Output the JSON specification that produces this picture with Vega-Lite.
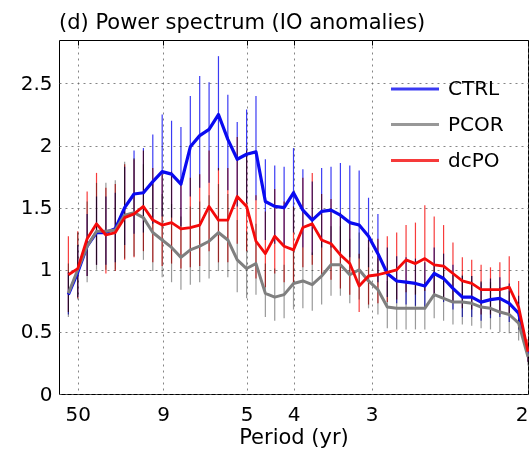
{
  "$schema": "https://vega.github.io/schema/vega-lite/v6.json",
  "width": 469,
  "height": 354,
  "autosize": {"type": "none"},
  "padding": {"left": 59, "top": 40, "right": 1, "bottom": 62},
  "background": "white",
  "title": {"text": "(d) Power spectrum (IO anomalies)", "anchor": "start", "frame": "group", "fontSize": 21, "fontWeight": "normal", "font": "DejaVu Sans", "color": "black", "offset": 7},
  "config": {
    "font": "DejaVu Sans",
    "view": {"stroke": "black", "strokeWidth": 1},
    "axis": {"labelFont": "DejaVu Sans", "labelFontSize": 20, "labelColor": "black", "titleFont": "DejaVu Sans", "titleFontSize": 21, "titleFontWeight": "normal", "titleColor": "black", "domainColor": "black", "gridColor": "#666", "gridDash": [2, 4], "gridOpacity": 0.8},
    "legend": {"orient": "none", "legendX": 330, "legendY": 23, "title": null, "symbolType": "stroke", "symbolSize": 2304, "symbolStrokeWidth": 3, "labelFontSize": 20, "labelFont": "DejaVu Sans", "labelColor": "black", "rowPadding": -10, "labelOffset": 7}
  },
  "data": {"values": [
    {"f":0.01,"s":"CTRL","v":0.80,"lo":0.64,"hi":0.98},
    {"f":0.02,"s":"CTRL","v":0.98,"lo":0.78,"hi":1.20},
    {"f":0.03,"s":"CTRL","v":1.19,"lo":0.95,"hi":1.45},
    {"f":0.04,"s":"CTRL","v":1.30,"lo":1.04,"hi":1.59},
    {"f":0.05,"s":"CTRL","v":1.30,"lo":1.04,"hi":1.59},
    {"f":0.06,"s":"CTRL","v":1.33,"lo":1.06,"hi":1.62},
    {"f":0.07,"s":"CTRL","v":1.50,"lo":1.20,"hi":1.83},
    {"f":0.08,"s":"CTRL","v":1.61,"lo":1.29,"hi":1.96},
    {"f":0.09,"s":"CTRL","v":1.62,"lo":1.30,"hi":1.98},
    {"f":0.10,"s":"CTRL","v":1.71,"lo":1.37,"hi":2.09},
    {"f":0.11,"s":"CTRL","v":1.79,"lo":1.43,"hi":2.25},
    {"f":0.12,"s":"CTRL","v":1.77,"lo":1.42,"hi":2.20},
    {"f":0.13,"s":"CTRL","v":1.69,"lo":1.35,"hi":2.15},
    {"f":0.14,"s":"CTRL","v":1.99,"lo":1.59,"hi":2.40},
    {"f":0.15,"s":"CTRL","v":2.08,"lo":1.66,"hi":2.56},
    {"f":0.16,"s":"CTRL","v":2.13,"lo":1.70,"hi":2.51},
    {"f":0.17,"s":"CTRL","v":2.25,"lo":1.80,"hi":2.72},
    {"f":0.18,"s":"CTRL","v":2.05,"lo":1.64,"hi":2.41},
    {"f":0.19,"s":"CTRL","v":1.89,"lo":1.51,"hi":2.19},
    {"f":0.20,"s":"CTRL","v":1.93,"lo":1.54,"hi":2.29},
    {"f":0.21,"s":"CTRL","v":1.95,"lo":1.56,"hi":2.40},
    {"f":0.22,"s":"CTRL","v":1.55,"lo":1.24,"hi":1.89},
    {"f":0.23,"s":"CTRL","v":1.51,"lo":1.21,"hi":1.84},
    {"f":0.24,"s":"CTRL","v":1.50,"lo":1.20,"hi":1.83},
    {"f":0.25,"s":"CTRL","v":1.62,"lo":1.30,"hi":1.98},
    {"f":0.26,"s":"CTRL","v":1.48,"lo":1.18,"hi":1.81},
    {"f":0.27,"s":"CTRL","v":1.40,"lo":1.12,"hi":1.71},
    {"f":0.28,"s":"CTRL","v":1.47,"lo":1.18,"hi":1.82},
    {"f":0.29,"s":"CTRL","v":1.48,"lo":1.18,"hi":1.83},
    {"f":0.30,"s":"CTRL","v":1.44,"lo":1.15,"hi":1.86},
    {"f":0.31,"s":"CTRL","v":1.38,"lo":1.10,"hi":1.84},
    {"f":0.32,"s":"CTRL","v":1.36,"lo":1.09,"hi":1.80},
    {"f":0.33,"s":"CTRL","v":1.27,"lo":1.02,"hi":1.58},
    {"f":0.34,"s":"CTRL","v":1.13,"lo":0.90,"hi":1.45},
    {"f":0.35,"s":"CTRL","v":0.97,"lo":0.78,"hi":1.18},
    {"f":0.36,"s":"CTRL","v":0.91,"lo":0.73,"hi":1.11},
    {"f":0.37,"s":"CTRL","v":0.90,"lo":0.72,"hi":1.10},
    {"f":0.38,"s":"CTRL","v":0.89,"lo":0.71,"hi":1.09},
    {"f":0.39,"s":"CTRL","v":0.87,"lo":0.70,"hi":1.06},
    {"f":0.40,"s":"CTRL","v":0.97,"lo":0.78,"hi":1.18},
    {"f":0.41,"s":"CTRL","v":0.93,"lo":0.74,"hi":1.13},
    {"f":0.42,"s":"CTRL","v":0.85,"lo":0.68,"hi":1.04},
    {"f":0.43,"s":"CTRL","v":0.78,"lo":0.62,"hi":0.95},
    {"f":0.44,"s":"CTRL","v":0.78,"lo":0.62,"hi":0.95},
    {"f":0.45,"s":"CTRL","v":0.74,"lo":0.59,"hi":0.90},
    {"f":0.46,"s":"CTRL","v":0.76,"lo":0.61,"hi":0.93},
    {"f":0.47,"s":"CTRL","v":0.77,"lo":0.62,"hi":0.94},
    {"f":0.48,"s":"CTRL","v":0.73,"lo":0.58,"hi":0.89},
    {"f":0.49,"s":"CTRL","v":0.65,"lo":0.52,"hi":0.79},
    {"f":0.50,"s":"CTRL","v":0.32,"lo":0.26,"hi":0.39},
    {"f":0.01,"s":"PCOR","v":0.81,"lo":0.62,"hi":1.05},
    {"f":0.02,"s":"PCOR","v":1.00,"lo":0.76,"hi":1.30},
    {"f":0.03,"s":"PCOR","v":1.19,"lo":0.90,"hi":1.55},
    {"f":0.04,"s":"PCOR","v":1.31,"lo":1.00,"hi":1.70},
    {"f":0.05,"s":"PCOR","v":1.31,"lo":1.00,"hi":1.70},
    {"f":0.06,"s":"PCOR","v":1.32,"lo":1.00,"hi":1.72},
    {"f":0.07,"s":"PCOR","v":1.44,"lo":1.09,"hi":1.87},
    {"f":0.08,"s":"PCOR","v":1.46,"lo":1.11,"hi":1.90},
    {"f":0.09,"s":"PCOR","v":1.42,"lo":1.08,"hi":1.85},
    {"f":0.10,"s":"PCOR","v":1.30,"lo":0.99,"hi":1.69},
    {"f":0.11,"s":"PCOR","v":1.24,"lo":0.94,"hi":1.61},
    {"f":0.12,"s":"PCOR","v":1.18,"lo":0.90,"hi":1.53},
    {"f":0.13,"s":"PCOR","v":1.10,"lo":0.84,"hi":1.43},
    {"f":0.14,"s":"PCOR","v":1.16,"lo":0.88,"hi":1.51},
    {"f":0.15,"s":"PCOR","v":1.19,"lo":0.90,"hi":1.55},
    {"f":0.16,"s":"PCOR","v":1.23,"lo":0.93,"hi":1.60},
    {"f":0.17,"s":"PCOR","v":1.30,"lo":0.99,"hi":1.69},
    {"f":0.18,"s":"PCOR","v":1.24,"lo":0.94,"hi":1.61},
    {"f":0.19,"s":"PCOR","v":1.08,"lo":0.82,"hi":1.40},
    {"f":0.20,"s":"PCOR","v":1.01,"lo":0.77,"hi":1.31},
    {"f":0.21,"s":"PCOR","v":1.05,"lo":0.80,"hi":1.37},
    {"f":0.22,"s":"PCOR","v":0.81,"lo":0.62,"hi":1.05},
    {"f":0.23,"s":"PCOR","v":0.78,"lo":0.59,"hi":1.01},
    {"f":0.24,"s":"PCOR","v":0.80,"lo":0.61,"hi":1.04},
    {"f":0.25,"s":"PCOR","v":0.89,"lo":0.68,"hi":1.16},
    {"f":0.26,"s":"PCOR","v":0.91,"lo":0.69,"hi":1.18},
    {"f":0.27,"s":"PCOR","v":0.88,"lo":0.67,"hi":1.14},
    {"f":0.28,"s":"PCOR","v":0.95,"lo":0.72,"hi":1.24},
    {"f":0.29,"s":"PCOR","v":1.04,"lo":0.79,"hi":1.35},
    {"f":0.30,"s":"PCOR","v":1.04,"lo":0.79,"hi":1.35},
    {"f":0.31,"s":"PCOR","v":0.96,"lo":0.73,"hi":1.25},
    {"f":0.32,"s":"PCOR","v":1.00,"lo":0.76,"hi":1.30},
    {"f":0.33,"s":"PCOR","v":0.91,"lo":0.69,"hi":1.18},
    {"f":0.34,"s":"PCOR","v":0.84,"lo":0.64,"hi":1.09},
    {"f":0.35,"s":"PCOR","v":0.70,"lo":0.53,"hi":0.91},
    {"f":0.36,"s":"PCOR","v":0.69,"lo":0.52,"hi":0.90},
    {"f":0.37,"s":"PCOR","v":0.69,"lo":0.52,"hi":0.90},
    {"f":0.38,"s":"PCOR","v":0.69,"lo":0.52,"hi":0.90},
    {"f":0.39,"s":"PCOR","v":0.69,"lo":0.52,"hi":0.90},
    {"f":0.40,"s":"PCOR","v":0.80,"lo":0.61,"hi":1.04},
    {"f":0.41,"s":"PCOR","v":0.77,"lo":0.59,"hi":1.00},
    {"f":0.42,"s":"PCOR","v":0.74,"lo":0.56,"hi":0.96},
    {"f":0.43,"s":"PCOR","v":0.74,"lo":0.56,"hi":0.96},
    {"f":0.44,"s":"PCOR","v":0.73,"lo":0.55,"hi":0.95},
    {"f":0.45,"s":"PCOR","v":0.70,"lo":0.53,"hi":0.91},
    {"f":0.46,"s":"PCOR","v":0.69,"lo":0.52,"hi":0.90},
    {"f":0.47,"s":"PCOR","v":0.66,"lo":0.50,"hi":0.86},
    {"f":0.48,"s":"PCOR","v":0.64,"lo":0.49,"hi":0.83},
    {"f":0.49,"s":"PCOR","v":0.57,"lo":0.43,"hi":0.74},
    {"f":0.50,"s":"PCOR","v":0.30,"lo":0.23,"hi":0.39},
    {"f":0.01,"s":"dcPO","v":0.96,"lo":0.66,"hi":1.27},
    {"f":0.02,"s":"dcPO","v":1.01,"lo":0.77,"hi":1.31},
    {"f":0.03,"s":"dcPO","v":1.25,"lo":0.95,"hi":1.63},
    {"f":0.04,"s":"dcPO","v":1.37,"lo":1.04,"hi":1.78},
    {"f":0.05,"s":"dcPO","v":1.28,"lo":0.97,"hi":1.66},
    {"f":0.06,"s":"dcPO","v":1.30,"lo":0.99,"hi":1.69},
    {"f":0.07,"s":"dcPO","v":1.42,"lo":1.08,"hi":1.85},
    {"f":0.08,"s":"dcPO","v":1.45,"lo":1.10,"hi":1.89},
    {"f":0.09,"s":"dcPO","v":1.51,"lo":1.15,"hi":1.96},
    {"f":0.10,"s":"dcPO","v":1.40,"lo":1.06,"hi":1.82},
    {"f":0.11,"s":"dcPO","v":1.36,"lo":1.03,"hi":1.77},
    {"f":0.12,"s":"dcPO","v":1.38,"lo":1.05,"hi":1.79},
    {"f":0.13,"s":"dcPO","v":1.33,"lo":1.01,"hi":1.73},
    {"f":0.14,"s":"dcPO","v":1.34,"lo":1.02,"hi":1.74},
    {"f":0.15,"s":"dcPO","v":1.36,"lo":1.03,"hi":1.77},
    {"f":0.16,"s":"dcPO","v":1.51,"lo":1.15,"hi":1.96},
    {"f":0.17,"s":"dcPO","v":1.40,"lo":1.06,"hi":1.82},
    {"f":0.18,"s":"dcPO","v":1.40,"lo":1.06,"hi":1.82},
    {"f":0.19,"s":"dcPO","v":1.59,"lo":1.21,"hi":2.07},
    {"f":0.20,"s":"dcPO","v":1.51,"lo":1.15,"hi":1.96},
    {"f":0.21,"s":"dcPO","v":1.23,"lo":0.93,"hi":1.60},
    {"f":0.22,"s":"dcPO","v":1.13,"lo":0.86,"hi":1.47},
    {"f":0.23,"s":"dcPO","v":1.27,"lo":0.97,"hi":1.65},
    {"f":0.24,"s":"dcPO","v":1.19,"lo":0.90,"hi":1.55},
    {"f":0.25,"s":"dcPO","v":1.16,"lo":0.88,"hi":1.51},
    {"f":0.26,"s":"dcPO","v":1.34,"lo":1.02,"hi":1.74},
    {"f":0.27,"s":"dcPO","v":1.37,"lo":1.04,"hi":1.78},
    {"f":0.28,"s":"dcPO","v":1.24,"lo":0.94,"hi":1.61},
    {"f":0.29,"s":"dcPO","v":1.21,"lo":0.92,"hi":1.57},
    {"f":0.30,"s":"dcPO","v":1.12,"lo":0.85,"hi":1.46},
    {"f":0.31,"s":"dcPO","v":1.05,"lo":0.80,"hi":1.37},
    {"f":0.32,"s":"dcPO","v":0.87,"lo":0.66,"hi":1.13},
    {"f":0.33,"s":"dcPO","v":0.95,"lo":0.72,"hi":1.24},
    {"f":0.34,"s":"dcPO","v":0.96,"lo":0.73,"hi":1.25},
    {"f":0.35,"s":"dcPO","v":0.98,"lo":0.74,"hi":1.27},
    {"f":0.36,"s":"dcPO","v":1.00,"lo":0.76,"hi":1.30},
    {"f":0.37,"s":"dcPO","v":1.08,"lo":0.82,"hi":1.36},
    {"f":0.38,"s":"dcPO","v":1.05,"lo":0.80,"hi":1.38},
    {"f":0.39,"s":"dcPO","v":1.09,"lo":0.83,"hi":1.52},
    {"f":0.40,"s":"dcPO","v":1.04,"lo":0.79,"hi":1.43},
    {"f":0.41,"s":"dcPO","v":1.03,"lo":0.78,"hi":1.36},
    {"f":0.42,"s":"dcPO","v":0.97,"lo":0.74,"hi":1.22},
    {"f":0.43,"s":"dcPO","v":0.91,"lo":0.69,"hi":1.10},
    {"f":0.44,"s":"dcPO","v":0.89,"lo":0.68,"hi":1.08},
    {"f":0.45,"s":"dcPO","v":0.84,"lo":0.64,"hi":1.04},
    {"f":0.46,"s":"dcPO","v":0.84,"lo":0.64,"hi":1.02},
    {"f":0.47,"s":"dcPO","v":0.84,"lo":0.64,"hi":1.06},
    {"f":0.48,"s":"dcPO","v":0.86,"lo":0.65,"hi":1.11},
    {"f":0.49,"s":"dcPO","v":0.70,"lo":0.53,"hi":0.91},
    {"f":0.50,"s":"dcPO","v":0.34,"lo":0.26,"hi":0.44}
  ]},
  "layer": [
    {
      "mark": {"type": "rule", "strokeWidth": 1.2, "opacity": 0.8, "blend": "multiply"},
      "encoding": {
        "x": {"field": "f", "type": "quantitative", "scale": {"domain": [0, 0.5], "nice": false, "zero": false},
          "axis": {"orient": "top", "title": null, "labels": false, "grid": false, "domain": false, "ticks": true, "tickSize": -5, "tickColor": "black",
            "values": [0.02, 0.1111111111, 0.2, 0.25, 0.3333333333, 0.5]}},
        "y": {"field": "lo", "type": "quantitative", "scale": {"domain": [0, 2.85], "nice": false}},
        "y2": {"field": "hi"},
        "color": {"field": "s", "type": "nominal", "scale": {"domain": ["CTRL", "PCOR", "dcPO"], "range": ["#0a0af0", "#7f7f7f", "#f50a0a"]}}
      }
    },
    {
      "mark": {"type": "line", "strokeJoin": "round"},
      "encoding": {
        "x": {"field": "f", "type": "quantitative", "scale": {"domain": [0, 0.5], "nice": false, "zero": false},
          "axis": {"orient": "bottom", "title": "Period (yr)", "grid": true, "ticks": false, "domain": false, "labelPadding": 10, "titlePadding": 2,
            "values": [0.02, 0.1111111111, 0.2, 0.25, 0.3333333333, 0.5],
            "labelExpr": "format(1/datum.value, '.0f')"}},
        "y": {"field": "v", "type": "quantitative", "scale": {"domain": [0, 2.85], "nice": false},
          "axis": {"title": null, "grid": true, "ticks": false, "domain": false, "labelPadding": 7, "values": [0, 0.5, 1, 1.5, 2, 2.5], "format": "~g"}},
        "color": {"field": "s", "type": "nominal", "scale": {"domain": ["CTRL", "PCOR", "dcPO"], "range": ["#0a0af0", "#7f7f7f", "#f50a0a"]}},
        "strokeWidth": {"field": "s", "type": "nominal", "scale": {"domain": ["CTRL", "PCOR", "dcPO"], "range": [3.2, 2.8, 2.8]}}
      }
    }
  ],
  "resolve": {"axis": {"x": "independent"}}
}
